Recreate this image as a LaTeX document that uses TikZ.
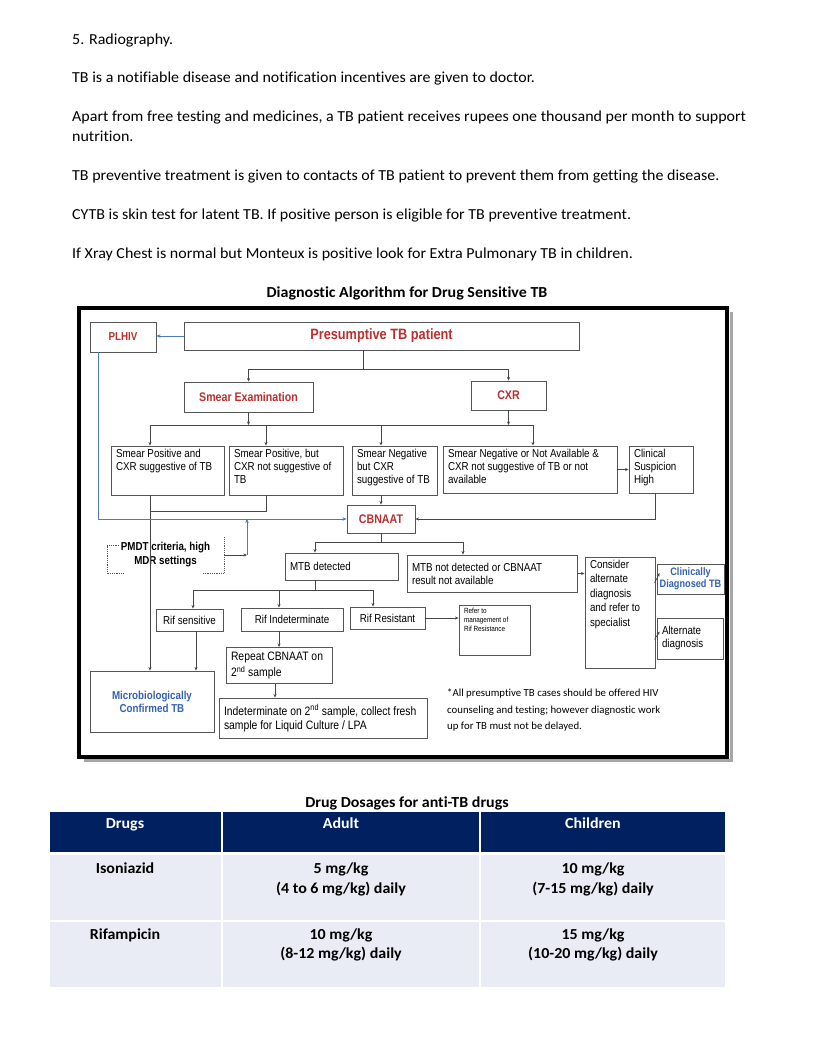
\documentclass[tikz,border=0pt]{standalone}
\usepackage{fontspec}
\setmainfont[Ligatures=NoCommon,FakeStretch=1.045]{Carlito}
\newfontfamily\nfont[Ligatures=NoCommon]{Carlito}
\newfontfamily\dfont[FakeStretch=0.85]{Liberation Sans}
\usetikzlibrary{arrows.meta,calc}
\definecolor{redt}{RGB}{185,48,48}
\definecolor{bluet}{RGB}{52,98,178}
\definecolor{bluel}{RGB}{80,120,190}
\definecolor{boxc}{RGB}{85,85,85}
\definecolor{linec}{RGB}{70,70,70}
\definecolor{navy}{RGB}{0,32,96}
\definecolor{rowc}{RGB}{233,235,245}
\newcommand\tb[4]{\parbox[c][#2pt][#3]{#1pt}{#4}}
\begin{document}
\begin{tikzpicture}[x=1pt,y=-1pt,
  bx/.style={draw=boxc, line width=0.9pt, inner xsep=5pt, inner ysep=3pt, fill=white,
    font=\dfont\fontsize{11.5pt}{13pt}\selectfont},
  cbx/.style={draw=boxc, line width=0.9pt, inner sep=0pt, fill=white, align=center,
    font=\dfont\fontsize{11.5pt}{13pt}\selectfont},
  redb/.style={text=redt, font=\dfont\bfseries\fontsize{12.5pt}{14pt}\selectfont},
  ln/.style={draw=linec, line width=0.7pt},
  arr/.style={draw=linec, line width=0.7pt, -{Stealth[length=3.5pt,width=3pt]}},
  barr/.style={draw=bluel, line width=0.9pt, -{Stealth[length=4pt,width=3.5pt]}},
  body/.style={anchor=base west, inner sep=0pt, font=\fontsize{15.3pt}{18pt}\selectfont},
  btitle/.style={anchor=base, inner sep=0pt, font=\bfseries\fontsize{15.3pt}{18pt}\selectfont},
  tcell/.style={anchor=base, inner sep=0pt, font=\bfseries\fontsize{15.3pt}{18pt}\selectfont},
  dotb/.style={densely dotted, draw=boxc, line width=0.8pt}
]
\useasboundingbox (0,0) rectangle (816,1056);
\fill[white] (0,0) rectangle (816,1056);

% ---------- body text ----------
\node[body] (t1) at (72,45) {5. Radiography.};
\node[body] (t2) at (72,83) {TB is a notifiable disease and notification incentives are given to doctor.};
\node[body] (t3) at (72,122) {Apart from free testing and medicines, a TB patient receives rupees one thousand per month to support};
\node[body] (t3b) at (72,142) {nutrition.};
\node[body] (t4) at (72,181) {TB preventive treatment is given to contacts of TB patient to prevent them from getting the disease.};
\node[body] (t5) at (72,220) {CYTB is skin test for latent TB. If positive person is eligible for TB preventive treatment.};
\node[body] (t6) at (72,259) {If Xray Chest is normal but Monteux is positive look for Extra Pulmonary TB in children.};
\node[btitle] (ttl) at (407,298) {Diagnostic Algorithm for Drug Sensitive TB};

% ---------- frame ----------
\draw[draw=black!35, line width=3pt] (731,312) -- (731,760) -- (84,760);
\draw[line width=4pt] (79,307.5) rectangle (727,756.5);

% ---------- diagram nodes ----------
\node[cbx, minimum width=66pt, minimum height=30pt, text=redt,
  font=\dfont\bfseries\fontsize{11.5pt}{13pt}\selectfont] (PL) at (123,337) {PLHIV};
\node[cbx, minimum width=395pt, minimum height=28pt, text=redt,
  font=\dfont\bfseries\fontsize{15pt}{17pt}\selectfont] (PR) at (381.5,336) {Presumptive TB patient};
\node[cbx, redb, minimum width=129pt, minimum height=30pt] (SE) at (248.5,397) {Smear Examination};
\node[cbx, redb, minimum width=75pt, minimum height=29pt] (CX) at (508.5,395.5) {CXR};

\node[bx] (A) at (167.5,470.5) {\tb{103}{43}{t}{\raggedright Smear Positive and\\CXR suggestive of TB}};
\node[bx] (B) at (286,470.5) {\tb{104}{43}{t}{\raggedright Smear Positive, but\\CXR not suggestive of\\TB}};
\node[bx] (C) at (394.5,470.5) {\tb{75}{43}{t}{\raggedright Smear Negative\\but CXR\\suggestive of TB}};
\node[bx] (D) at (530,469.5) {\tb{164}{41}{t}{\raggedright Smear Negative or Not Available \&\\CXR not suggestive of TB or not\\available}};
\node[bx] (E) at (661,469.5) {\tb{54}{41}{t}{\raggedright Clinical\\Suspicion\\High}};

\node[cbx, redb, minimum width=68pt, minimum height=28pt] (CB) at (381,519) {CBNAAT};

\node[inner sep=0pt, minimum width=117pt, minimum height=28pt, align=center,
  font=\dfont\bfseries\fontsize{11.5pt}{14pt}\selectfont] (PMDT) at (165.5,555) {PMDT criteria, high\\MDR settings};
\draw[dotb] (119,545) -- (107,545) -- (107,573) -- (123,573);
\draw[dotb] (203,573) -- (224,573) -- (224,537);

\node[bx] (MTBd) at (341.5,566.5) {\tb{103}{21}{c}{\raggedright MTB detected}};
\node[bx] (MTBn) at (492,573.5) {\tb{160}{31}{c}{\raggedright MTB not detected or CBNAAT\\result not available}};
\node[bx, font=\dfont\fontsize{11.5pt}{14.5pt}\selectfont] (Cons) at (620,612.5) {\tb{60}{105}{t}{\raggedright Consider\\alternate\\diagnosis\\and refer to\\specialist}};
\node[cbx, minimum width=67pt, minimum height=30pt, text=bluet,
  font=\dfont\bfseries\fontsize{10.8pt}{12pt}\selectfont] (ClinDx) at (690.5,579) {Clinically\\Diagnosed TB};
\node[bx] (AltDx) at (690,638.5) {\tb{56}{35}{c}{\raggedright Alternate\\diagnosis}};

\node[cbx, minimum width=67pt, minimum height=22pt] (RifS) at (189.5,620) {Rif sensitive};
\node[cbx, minimum width=102pt, minimum height=23pt] (RifI) at (292,619.5) {Rif Indeterminate};
\node[cbx, minimum width=75pt, minimum height=22pt] (RifR) at (387.5,618) {Rif Resistant};
\node[bx, font=\dfont\fontsize{7.5pt}{9pt}\selectfont] (Refer) at (494.5,630) {\tb{61}{44}{t}{\raggedright Refer to\\management of\\Rif Resistance}};

\node[bx, font=\dfont\fontsize{12.2pt}{16pt}\selectfont] (Rep) at (279,665.5) {\tb{96}{30}{c}{\raggedright Repeat CBNAAT on\\2\textsuperscript{nd} sample}};
\node[bx, font=\dfont\fontsize{12.2pt}{14pt}\selectfont] (Indet) at (323,718) {\tb{198}{34}{c}{\raggedright Indeterminate on 2\textsuperscript{nd} sample, collect fresh\\sample for Liquid Culture / LPA}};
\node[bx, text=bluet, font=\dfont\bfseries\fontsize{11.5pt}{13pt}\selectfont] (Micro) at (152,701.5) {\tb{114}{55}{c}{\centering Microbiologically\\Confirmed TB}};

\node[anchor=north west, inner sep=0pt, align=left, font=\nfont\fontsize{10.8pt}{16.5pt}\selectfont] (note) at (447,689)
  {*All presumptive TB cases should be offered HIV\\counseling and testing; however diagnostic work\\up for TB must not be delayed.};

% ---------- connectors ----------
\coordinate (j1) at (363,369);
\draw[barr] (PR.west) -- (PR.west -| PL.east);
\draw[ln] (PR.south -| j1) -- (j1);
\draw[arr] (j1) -| (SE.north);
\draw[arr] (j1) -| (CX.north);

\coordinate (h2l) at (150,425);
\coordinate (h2r) at (533,425);
\coordinate (dB) at (266,425);
\coordinate (dC) at (381,425);
\draw[arr] (SE.south) -- (SE.south |- h2l);
\draw[arr] (CX.south) -- (CX.south |- h2l);
\draw[ln] (h2l) -- (h2r);
\draw[arr] (h2l) -- (h2l |- A.north);
\draw[arr] (dB) -- (dB |- B.north);
\draw[arr] (dC) -- (dC |- C.north);
\draw[arr] (h2r) -- (h2r |- D.north);

\coordinate (m1) at (150,511);
\draw[ln] (dB |- B.south) -- (dB |- m1) -- (m1);
\draw[arr] (h2l |- A.south) -- (h2l |- Micro.north);
\draw[arr] (C.south -| CB.north) -- (CB.north);
\draw[arr] (D.east) -- (D.east -| E.west);
\coordinate (e1) at (655,493);
\draw[arr] (E.south -| e1) |- (CB.east);

\coordinate (pl1) at (98,352);
\draw[barr] (PL.south -| pl1) |- (CB.west);
\coordinate (pm) at (247,555);
\draw[arr] (PMDT.east) -- (pm);
\draw[barr] (pm) -- (pm |- CB.west);

\coordinate (j3) at (381,542);
\coordinate (j3l) at (315,542);
\coordinate (j3r) at (463,542);
\draw[ln] (CB.south) -- (j3);
\draw[ln] (j3l) -- (j3r);
\draw[arr] (j3l) -- (j3l |- MTBd.north);
\draw[arr] (j3r) -- (j3r |- MTBn.north);
\draw[arr] (MTBn.east) -- (MTBn.east -| Cons.west);
\draw[arr] ($(ClinDx.west)+(-2,4)$) -- ($(ClinDx.west)+(3,-6)$);
\draw[arr] ($(AltDx.west)+(-2,1)$) -- ($(AltDx.west)+(3,-7)$);

\coordinate (j4) at (315,590);
\coordinate (j4l) at (193,590);
\coordinate (j4m) at (279,590);
\coordinate (j4r) at (373,590);
\draw[ln] (MTBd.south -| j4) -- (j4);
\draw[ln] (j4l) -- (j4r);
\draw[arr] (j4l) -- (j4l |- RifS.north);
\draw[arr] (j4m) -- (j4m |- RifI.north);
\draw[arr] (j4r) -- (j4r |- RifR.north);
\draw[arr] (RifR.east) -- (RifR.east -| Refer.west);
\draw[arr] (RifI.south -| j4m) -- (j4m |- Rep.north);
\coordinate (r5) at (275,690);
\draw[arr] (Rep.south -| r5) -- (Indet.north -| r5);
\coordinate (r6) at (196,650);
\draw[arr] (RifS.south -| r6) -- (Micro.north -| r6);

% ---------- table ----------
\node[btitle] (ttl2) at (407,807) {Drug Dosages for anti-TB drugs};
\fill[navy] (50,812) rectangle (221,852);
\fill[navy] (223,812) rectangle (479,852);
\fill[navy] (481,812) rectangle (725,852);
\fill[rowc] (50,855) rectangle (221,920);
\fill[rowc] (223,855) rectangle (479,920);
\fill[rowc] (481,855) rectangle (725,920);
\fill[rowc] (50,922) rectangle (221,987);
\fill[rowc] (223,922) rectangle (479,987);
\fill[rowc] (481,922) rectangle (725,987);

\node[tcell, text=white] (h1) at (125,828) {Drugs};
\node[tcell, text=white] (h2) at (341,828) {Adult};
\node[tcell, text=white] (h3) at (593,828) {Children};

\node[tcell] (r1a) at (125,873) {Isoniazid};
\node[tcell] (r1b) at (341,873) {5 mg/kg};
\node[tcell] (r1b2) at (341,893) {(4 to 6 mg/kg) daily};
\node[tcell] (r1c) at (593,873) {10 mg/kg};
\node[tcell] (r1c2) at (593,893) {(7-15 mg/kg) daily};

\node[tcell] (r2a) at (125,939) {Rifampicin};
\node[tcell] (r2b) at (341,939) {10 mg/kg};
\node[tcell] (r2b2) at (341,958) {(8-12 mg/kg) daily};
\node[tcell] (r2c) at (593,939) {15 mg/kg};
\node[tcell] (r2c2) at (593,958) {(10-20 mg/kg) daily};
\end{tikzpicture}
\end{document}
